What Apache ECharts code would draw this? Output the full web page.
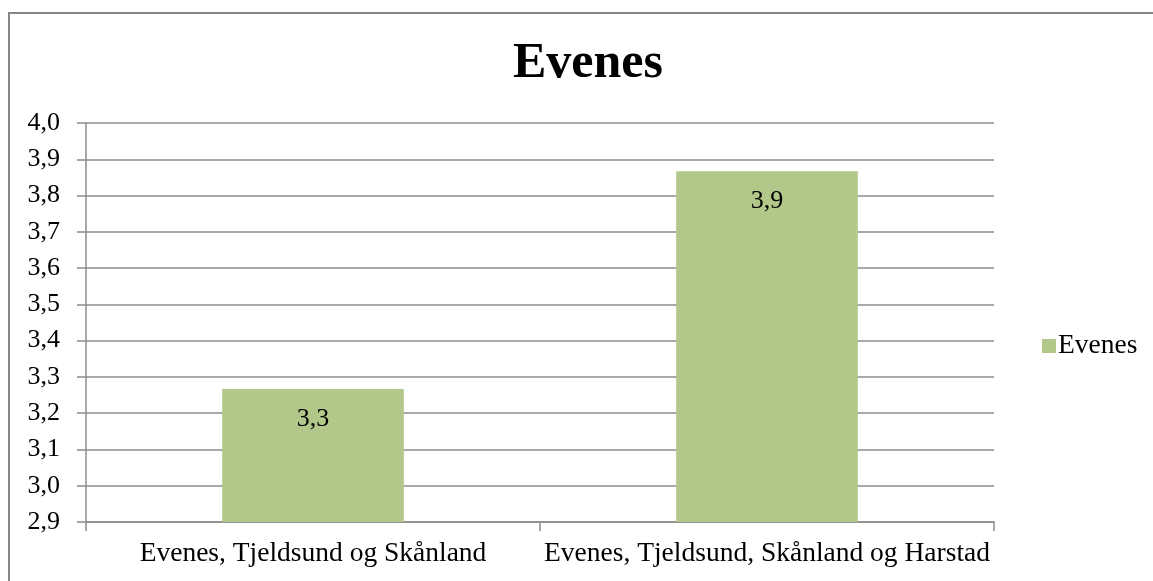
<!DOCTYPE html>
<html>
<head>
<meta charset="utf-8">
<script src="https://cdn.jsdelivr.net/npm/echarts@6/dist/echarts.min.js"></script>
<style>
  html, body { margin: 0; padding: 0; background: #fff; }
  #frame { position: absolute; left: 8px; top: 12px; width: 1300px; height: 700px; border-left: 2px solid #868686; border-top: 2px solid #868686; }
  #chart { position: absolute; left: 0; top: 0; width: 1153px; height: 581px; }
</style>
</head>
<body>
<div id="frame"></div>
<div id="chart"></div>
<script>
const titleText = 'Evenes';
const seriesName = 'Evenes';
const categories = ['Evenes, Tjeldsund og Skånland', 'Evenes, Tjeldsund, Skånland og Harstad'];
const values = [3.267, 3.867];
const yMin = 2.9, yMax = 4.0, yStep = 0.1;

const FONT = '"Liberation Serif", "DejaVu Serif", serif';
const chart = echarts.init(document.getElementById('chart'), null, { renderer: 'canvas' });
chart.setOption({
  animation: false,
  backgroundColor: 'transparent',
  title: {
    text: titleText,
    left: 583, top: 34,
    textAlign: 'center',
    textStyle: { fontFamily: FONT, fontSize: 50, fontWeight: 'bold', color: '#000' }
  },
  legend: {
    data: [seriesName],
    left: 1037, top: 327,
    icon: 'rect', itemWidth: 14, itemHeight: 14, itemGap: 6,
    textStyle: { fontFamily: FONT, fontSize: 27.5, color: '#000', padding: [0,0,0,-3] }
  },
  grid: { left: 86, right: 159, top: 123, bottom: 59, containLabel: false },
  xAxis: {
    type: 'category',
    data: categories,
    axisLine: { show: true, lineStyle: { color: '#8c8c8c', width: 1.5 } },
    axisTick: { show: true, length: 9, alignWithLabel: false, lineStyle: { color: '#8c8c8c', width: 1.5 } },
    axisLabel: { fontFamily: FONT, fontSize: 27.5, color: '#000', margin: 18, interval: 0 }
  },
  yAxis: {
    type: 'value',
    min: yMin, max: yMax, interval: yStep,
    axisLine: { show: true, lineStyle: { color: '#8c8c8c', width: 1.5 } },
    axisTick: { show: true, length: 9, lineStyle: { color: '#8c8c8c', width: 1.5 } },
    axisLabel: {
      fontFamily: FONT, fontSize: 26, color: '#000', margin: 26,
      formatter: v => v.toFixed(1).replace('.', ',')
    },
    splitLine: { show: true, lineStyle: { color: '#8c8c8c', width: 1.5 } }
  },
  series: [{
    name: seriesName,
    type: 'bar',
    data: values,
    barWidth: '40%',
    itemStyle: { color: '#b2c78a' },
    label: {
      show: true, position: 'insideTop', distance: 17,
      fontFamily: FONT, fontSize: 26, color: '#000',
      formatter: p => p.value.toFixed(1).replace('.', ',')
    }
  }]
});
</script>
</body>
</html>
